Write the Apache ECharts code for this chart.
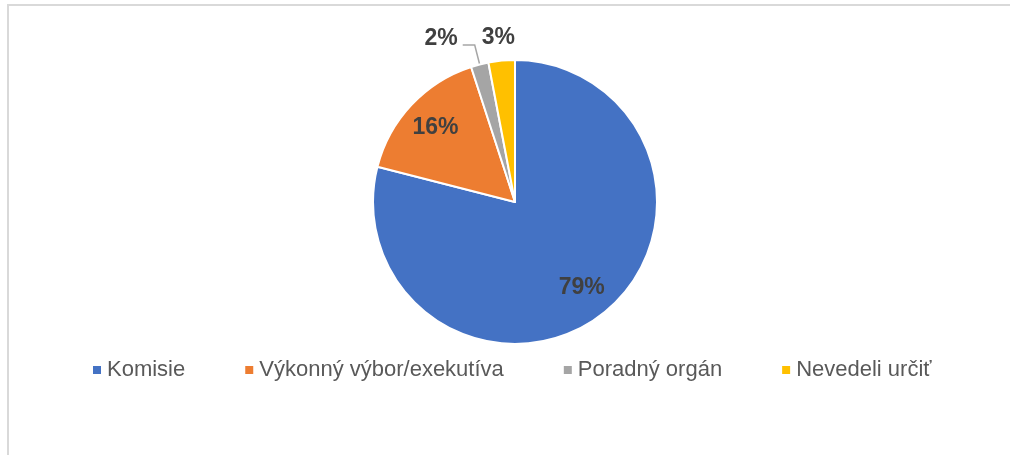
<!DOCTYPE html>
<html>
<head>
<meta charset="utf-8">
<script src="https://cdn.jsdelivr.net/npm/echarts@6/dist/echarts.min.js"></script>
<style>
    html, body { margin: 0; padding: 0; background: #fff; overflow: hidden; }
    #frame {
        position: absolute; left: 7px; top: 4px;
        width: 1100px; height: 600px;
        border: 2px solid #d9d9d9;
    }
    #chart { position: absolute; left: 0; top: 0; width: 1010px; height: 455px; }
</style>
</head>
<body>
<div id="frame"></div>
<div id="chart"></div>
<script>
!function () {

    'use strict';

    var categories = [ 'Komisie', 'Výkonný výbor/exekutíva', 'Poradný orgán', 'Nevedeli určiť' ];
    var values = [ 79, 16, 2, 3 ];
    var colors = [ '#4472C4', '#ED7D31', '#A5A5A5', '#FFC000' ];
    // which labels sit inside the slice
    var inside = [ true, true, false, false ];

    var center = [ 515, 202 ];
    var radius = 142;
    var font = "'Liberation Sans', Arial, sans-serif";

    var labelFmt = function (p) { return p.value + '%'; };
    // outside labels sit a bit above the end of their leader line
    var outerFmt = function (p) { return '{v|' + p.value + '%}\n{s|}'; };

    var pieData = categories.map(function (name, i) {
        var item = { name : name, value : values[i], itemStyle : { color : colors[i] } };
        if (inside[i]) {
            item.label = { show : false };
            item.labelLine = { show : false };
        } else if (i === 3) {
            item.labelLine = { show : false, length : 17, length2 : -20 };
        }
        return item;
    });

    var labelData = categories.map(function (name, i) {
        return {
            name : name,
            value : values[i],
            label : { show : inside[i] }
        };
    });

    var option = {
        animation : false,
        legend : {
            data : categories,
            left : 86,
            top : 354,
            icon : 'rect',
            itemWidth : 10,
            itemHeight : 10,
            itemGap : 58,
            textStyle : { fontFamily : font, fontSize : 22, color : '#595959' }
        },
        series : [
            {
                name : 'main',
                type : 'pie',
                center : center,
                radius : [ 0, radius ],
                startAngle : 90,
                clockwise : true,
                avoidLabelOverlap : false,
                itemStyle : { borderColor : '#fff', borderWidth : 2 },
                label : {
                    show : true,
                    position : 'outside',
                    formatter : outerFmt,
                    rich : {
                        v : {
                            fontFamily : font,
                            fontSize : 23,
                            fontWeight : 'bold',
                            color : '#404040',
                            height : 26
                        },
                        s : { height : 12 }
                    }
                },
                labelLine : {
                    show : true,
                    length : 20,
                    length2 : 12,
                    lineStyle : { color : '#a6a6a6', width : 1.5 }
                },
                emphasis : { disabled : true },
                data : pieData
            },
            {
                // label carrier: places inner labels further out than the default inside spot
                name : 'labels',
                type : 'pie',
                center : center,
                radius : [ 70, radius ],
                startAngle : 90,
                clockwise : true,
                silent : true,
                avoidLabelOverlap : false,
                itemStyle : { color : 'rgba(0,0,0,0)', borderWidth : 0 },
                label : {
                    position : 'inside',
                    formatter : labelFmt,
                    fontFamily : font,
                    fontSize : 23,
                    fontWeight : 'bold',
                    color : '#404040'
                },
                labelLine : { show : false },
                emphasis : { disabled : true },
                data : labelData
            }
        ]
    };

    var chart = echarts.init(document.getElementById('chart'), null, { renderer : 'canvas' });
    chart.setOption(option);
}();
</script>
</body>
</html>
